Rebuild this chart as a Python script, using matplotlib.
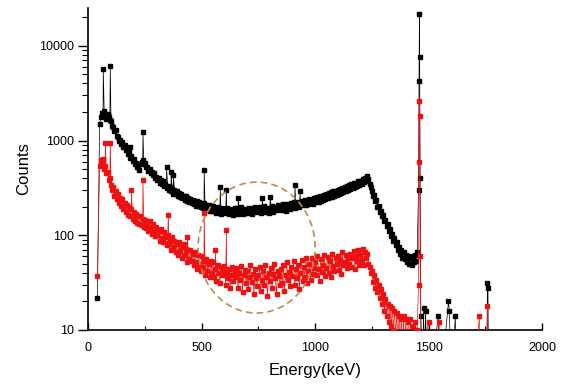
import numpy as np
import matplotlib
matplotlib.use("Agg")
import matplotlib.pyplot as plt
from matplotlib.patches import Ellipse
from matplotlib.ticker import LogLocator, FixedLocator, NullFormatter

plt.rcParams['font.family'] = ['Liberation Sans', 'DejaVu Sans']

# ---- data ----
grid_energy = np.arange(50, 1451, 5)  # keV, continuum channels

black_cont = [
    1500, 1750, 1950, 1800, 2050, 1850, 1700, 1900, 1780, 1650,
    1600, 1420, 1400, 1260, 1290, 1120, 1100, 980, 1010, 920,
    960, 860, 890, 790, 800, 720, 750, 660, 690, 610,
    640, 570, 580, 520, 530, 490, 560, 600, 630, 570,
    580, 520, 530, 480, 500, 450, 465, 430, 450, 400,
    410, 380, 400, 360, 380, 345, 370, 330, 350, 315,
    335, 300, 320, 290, 310, 275, 300, 270, 295, 262,
    280, 255, 272, 245, 262, 238, 258, 232, 248, 226,
    242, 218, 236, 212, 230, 206, 228, 202, 224, 198,
    215, 196, 218, 190, 210, 186, 208, 182, 205, 180,
    202, 182, 190, 172, 198, 178, 186, 168, 194, 176,
    188, 170, 196, 180, 166, 190, 176, 184, 164, 192,
    178, 194, 168, 186, 174, 198, 166, 182, 190, 172,
    186, 170, 196, 178, 168, 192, 182, 200, 174, 188,
    180, 198, 172, 190, 184, 204, 176, 194, 186, 170,
    196, 182, 206, 178, 192, 200, 184, 210, 188, 198,
    204, 186, 212, 194, 182, 216, 198, 206, 190, 218,
    200, 222, 194, 212, 206, 226, 198, 216, 230, 208,
    220, 234, 210, 228, 216, 242, 222, 236, 212, 246,
    248, 222, 252, 226, 258, 230, 262, 236, 268, 240,
    272, 246, 276, 252, 284, 256, 290, 262, 296, 268,
    300, 274, 308, 280, 316, 286, 322, 292, 330, 300,
    336, 306, 344, 314, 352, 322, 360, 330, 372, 340,
    378, 350, 390, 362, 404, 376, 425, 395, 350, 320,
    295, 262, 268, 228, 236, 200, 206, 176, 182, 158,
    164, 140, 146, 124, 130, 110, 116, 98, 104, 88,
    94, 78, 84, 70, 76, 64, 70, 58, 66, 56,
    62, 52, 58, 50, 60, 48, 56, 52, 62, 54,
    66,
]

red_cont = [
    540, 620, 580, 640, 500, 540, 450, 470, 380, 400,
    340, 300, 320, 260, 290, 240, 270, 220, 250, 205,
    240, 190, 220, 175, 210, 165, 200, 160, 190, 150,
    175, 140, 168, 135, 160, 130, 158, 128, 150, 122,
    145, 120, 132, 110, 140, 118, 104, 130, 112, 98,
    122, 100, 112, 88, 116, 94, 84, 108, 96, 78,
    100, 82, 92, 70, 96, 76, 88, 66, 80, 62,
    84, 68, 76, 58, 80, 62, 72, 52, 70, 56,
    70, 54, 64, 48, 66, 52, 44, 62, 50, 42,
    60, 46, 54, 38, 56, 42, 50, 36, 53, 40,
    52, 36, 44, 33, 48, 40, 31, 46, 38, 42,
    47, 30, 40, 35, 44, 28, 38, 46, 33, 41,
    36, 45, 28, 40, 34, 47, 25, 38, 43, 31,
    42, 27, 36, 48, 32, 39, 24, 44, 35, 29,
    38, 46, 26, 34, 42, 30, 49, 36, 23, 40,
    33, 45, 28, 39, 50, 35, 24, 42, 37, 30,
    44, 31, 48, 26, 38, 52, 34, 41, 29, 46,
    37, 53, 30, 44, 35, 49, 27, 40, 55, 33,
    46, 36, 57, 31, 42, 50, 34, 58, 39, 45,
    52, 38, 60, 44, 33, 56, 41, 48, 62, 37,
    45, 59, 40, 53, 36, 63, 47, 42, 57, 50,
    60, 43, 55, 39, 66, 48, 52, 62, 45, 58,
    50, 64, 46, 57, 68, 44, 60, 53, 70, 49,
    62, 55, 72, 48, 66, 58, 64, 50, 46, 40,
    42, 32, 38, 28, 34, 25, 30, 22, 27, 19,
    24, 16, 21, 14, 19, 12, 18, 11, 17, 10,
    16, 9, 15, 8, 14, 8, 13, 7, 14, 6,
    13, 6, 12, 5, 13, 6, 11, 5, 12, 5,
    10,
]

black_peak_energy = [40, 66, 97, 185, 241, 345, 365, 375, 511, 582, 609, 661, 768, 803,
                     911, 934, 1456, 1458, 1460, 1461, 1463, 1466,
                     1475, 1478, 1482, 1487, 1495, 1505, 1544, 1550, 1588, 1592, 1600,
                     1618, 1625, 1700, 1755, 1760, 1762, 1765]
black_peak_counts = [22, 5700, 6150, 845, 1220, 520, 460, 430, 483, 320, 300, 250, 250, 255,
                     336, 290, 300, 4300, 21700, 7660, 400, 14,
                     3, 17, 4, 16, 2, 3, 14, 2, 20, 16, 2,
                     14, 2, 2, 2, 31, 28, 2]

red_peak_energy = [40, 75, 97, 190, 241, 353, 437, 511, 560, 609,
                   1456, 1458, 1460, 1461, 1463, 1466,
                   1500, 1505, 1547, 1552, 1700, 1724, 1730, 1755, 1760, 1765]
red_peak_counts = [37, 950, 950, 297, 380, 162, 95, 170, 70, 113,
                   30, 600, 2600, 1800, 60, 5,
                   12, 2, 12, 2, 2, 14, 2, 2, 18, 2]


def merge(e1, c1, e2, c2):
    e = np.concatenate([np.asarray(e1, float), np.asarray(e2, float)])
    c = np.concatenate([np.asarray(c1, float), np.asarray(c2, float)])
    order = np.argsort(e, kind="stable")
    return e[order], c[order]


bx, by = merge(grid_energy, black_cont, black_peak_energy, black_peak_counts)
rx, ry = merge(grid_energy, red_cont, red_peak_energy, red_peak_counts)

# ---- figure ----
fig = plt.figure(figsize=(5.61, 3.85), dpi=100)
ax = fig.add_axes([0.1574, 0.1429, 0.966 - 0.1574, 0.979 - 0.1429])

ax.plot(bx, by, color='black', lw=0.5, marker='s', ms=2.6, mec='black', mfc='black', zorder=3)
ax.plot(rx, ry, color='#ee1111', lw=0.5, marker='s', ms=2.6, mec='#ee1111', mfc='#ee1111', zorder=4)

ax.set_yscale('log')
ax.set_xlim(0, 2000)
ax.set_ylim(10, 25000)

ax.xaxis.set_major_locator(FixedLocator([0, 500, 1000, 1500, 2000]))
ax.xaxis.set_minor_locator(FixedLocator([250, 750, 1250, 1750]))
ax.yaxis.set_major_locator(FixedLocator([10, 100, 1000, 10000]))
ax.yaxis.set_minor_locator(LogLocator(base=10, subs=np.arange(2, 10), numticks=20))
ax.yaxis.set_minor_formatter(NullFormatter())
ax.set_yticklabels(['10', '100', '1000', '10000'])

ax.tick_params(axis='y', which='major', direction='out', length=7, width=1, labelsize=9, pad=3)
ax.tick_params(axis='y', which='minor', direction='out', length=4, width=0.8)
ax.tick_params(axis='x', which='major', direction='in', length=5, width=1, labelsize=9, pad=9)
ax.tick_params(axis='x', which='minor', direction='in', length=3, width=0.8)

for s in ['top', 'right']:
    ax.spines[s].set_visible(False)
for s in ['left', 'bottom']:
    ax.spines[s].set_linewidth(1.2)

ax.set_xlabel('Energy(keV)', fontsize=12, labelpad=6)
ax.set_ylabel('Counts', fontsize=12, labelpad=6)

ell = Ellipse((0.371, 0.256), 0.258, 0.407, transform=ax.transAxes, fill=False,
              edgecolor='#c8864a', lw=1.2, ls=(0, (4, 2.5)), zorder=6)
ax.add_patch(ell)

fig.savefig('out.png', dpi=100)
